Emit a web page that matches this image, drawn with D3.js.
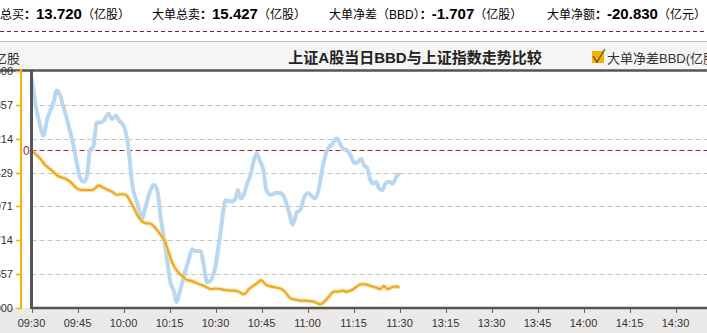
<!DOCTYPE html>
<html lang="zh">
	<head>
		<meta charset="utf-8">
		<title>上证A股当日BBD与上证指数走势比较</title>
		<script type="text/javascript" src="https://cdn.jsdelivr.net/npm/d3@7/dist/d3.min.js"></script>
		<style type="text/css">
			body { margin: 0; background: #fff; }
			svg { display: block; }
			text { font-family: "Liberation Sans", Arial, "Noto Sans CJK SC", sans-serif; }
		</style>
	</head>
	<body>
		<script type="text/javascript">

			//Width and height
			var w = 707;
			var h = 333;

			//Summary line at the top
			var summaryLabels = ["大单总买", "大单总卖", "大单净差（BBD）", "大单净额"];
			var summaryValues = ["13.720", "15.427", "-1.707", "-20.830"];
			var summaryUnits = ["（亿股）", "（亿股）", "（亿股）", "（亿元）"];

			//Time axis: trading minutes since 09:30, one label every 15 minutes
			var timeLabels = ["09:30", "09:45", "10:00", "10:15", "10:30", "10:45", "11:00", "11:15", "11:30",
							  "13:15", "13:30", "13:45", "14:00", "14:15", "14:30", "14:45", "15:00"];

			//Left axis (BBD, 亿股)
			var bbdTicks = [1.5, 0.857, 0.214, -0.429, -1.071, -1.714, -2.357, -3.0];

			//BBD series (orange)
			var bbdMinutes = [0, 1.2, 2.8, 4.5, 5.8, 7.2, 8.8, 9.9, 11.5, 13.1,
							  14.8, 16.4, 18, 19.7, 20.8, 21.8, 23.2, 24.6, 26.2, 27.8,
							  29.4, 30.7, 31.7, 32.8, 34.5, 35.5, 37.2, 38.8, 40.4, 42.1,
							  43.5, 44.6, 45.9, 47.5, 49.1, 50.8, 52.4, 54, 55.7, 57.3,
							  58.4, 60, 61.6, 63.3, 64.9, 66, 67.6, 69.2, 70.9, 72.5,
							  73.8, 74.9, 76.3, 77.9, 79.6, 81.2, 82.8, 84.5, 86.1, 87.7,
							  89.3, 91, 92.6, 94.2, 95.3, 96.9, 98.6, 100, 101.3, 102.6,
							  104, 105.7, 107.3, 108.9, 110.5, 112.2, 113.8, 114.9, 116, 117.4,
							  118.7, 120];
			var bbdValues = [0, -0.07, -0.16, -0.29, -0.35, -0.42, -0.50, -0.52, -0.56, -0.63,
							 -0.73, -0.76, -0.76, -0.76, -0.73, -0.67, -0.71, -0.75, -0.79, -0.85,
							 -0.84, -0.85, -0.92, -1.04, -1.23, -1.32, -1.39, -1.40, -1.48, -1.61,
							 -1.73, -1.92, -2.14, -2.30, -2.39, -2.47, -2.49, -2.53, -2.57, -2.61,
							 -2.64, -2.63, -2.64, -2.66, -2.67, -2.67, -2.69, -2.74, -2.64, -2.57,
							 -2.52, -2.47, -2.55, -2.59, -2.61, -2.63, -2.70, -2.82, -2.84, -2.86,
							 -2.86, -2.87, -2.89, -2.93, -2.89, -2.79, -2.69, -2.69, -2.67, -2.69,
							 -2.67, -2.61, -2.55, -2.55, -2.58, -2.61, -2.64, -2.58, -2.64, -2.61,
							 -2.59, -2.61];

			//上证指数 series (blue, right axis is outside the picture)
			var indexMinutes = [0, 1.7, 2.8, 3.9, 5, 6.1, 7.2, 8.2, 9.4, 10.4,
								11.5, 12.6, 13.7, 14.8, 15.9, 17, 18, 19.1, 20.2, 21.3,
								22.4, 23.5, 25.1, 26.2, 27.5, 28.6, 30, 31.1, 31.7, 32.8,
								34.5, 36.1, 37.2, 38.8, 39.9, 41, 42.1, 43.1, 44.2, 45.3,
								46.4, 47.3, 48.3, 49.7, 51.3, 52.4, 53.5, 55.1, 56.2, 57.3,
								58.4, 60, 61.6, 63.3, 64.3, 65.4, 66.5, 67.3, 68.2, 69.2,
								70.3, 71.4, 72.5, 73.4, 74.4, 75.6, 76.6, 77.9, 79.6, 81,
								82.3, 83.9, 85.2, 86.4, 87.7, 88.8, 89.9, 91, 92.3, 93.2,
								94.2, 95.3, 96.4, 98.1, 99.4, 100.4, 101.5, 102.9, 104, 105.4,
								106.5, 107.5, 108.4, 109.5, 110.5, 111.6, 112.4, 113.3, 114.4, 115.4,
								116.7, 117.8, 118.9, 120];
			var indexValues = [2188.9, 2183.3, 2180.8, 2179.1, 2181.6, 2183.3, 2184.7, 2186.7, 2185.8, 2183.9,
							   2182.0, 2179.7, 2177.4, 2174.4, 2171.9, 2171.3, 2172.1, 2176.6, 2177.4, 2181.3,
							   2181.3, 2181.6, 2182.8, 2181.9, 2182.5, 2181.6, 2180.8, 2178.8, 2176.6, 2171.0,
							   2167.7, 2165.2, 2167.1, 2169.9, 2170.8, 2169.9, 2165.4, 2162.1, 2158.2, 2154.3,
							   2152.9, 2151.0, 2152.6, 2155.4, 2158.2, 2159.9, 2159.6, 2159.6, 2157.1, 2154.3,
							   2154.6, 2157.1, 2162.7, 2168.2, 2168.0, 2168.0, 2168.5, 2169.9, 2168.5, 2169.1,
							   2171.0, 2172.4, 2174.9, 2176.1, 2174.9, 2173.3, 2169.9, 2169.1, 2169.4, 2169.4,
							   2168.8, 2166.3, 2164.1, 2166.0, 2166.6, 2168.5, 2169.4, 2169.1, 2168.5, 2169.1,
							   2171.6, 2174.7, 2176.6, 2177.7, 2178.6, 2178.0, 2176.9, 2176.6, 2175.8, 2174.4,
							   2174.7, 2175.2, 2174.1, 2173.6, 2171.6, 2171.0, 2171.3, 2170.2, 2169.9, 2171.0,
							   2171.3, 2171.0, 2172.1, 2172.7];
			var indexDomain = [2150, 2190];

			//Plot box
			var plotLeft = 31.5, plotRight = 767.5, plotTop = 71, plotBottom = 308;

			var xScale = d3.scaleLinear()
						.domain([0, 240])
						.range([plotLeft, plotRight]);

			var yScale = d3.scaleLinear()
						.domain([-3, 1.5])
						.range([plotBottom, plotTop]);

			var yIndex = d3.scaleLinear()
						.domain(indexDomain)
						.range([plotBottom, plotTop]);

			var svg = d3.select("body")
						.append("svg")
						.attr("width", w)
						.attr("height", h);

			//Summary line
			var summaryX = [-24, 152, 329, 547];
			summaryLabels.forEach(function(label, i) {
				var t = svg.append("text")
					.attr("x", summaryX[i])
					.attr("y", 19)
					.attr("fill", "#000");
				t.append("tspan").attr("font-size", "12px").text(label);
				t.append("tspan").attr("font-size", "12px").attr("font-weight", "bold").text("：");
				t.append("tspan").attr("font-size", "15px").attr("font-weight", "bold").text(summaryValues[i]);
				t.append("tspan").attr("font-size", "12px").text(summaryUnits[i]);
			});

			svg.append("line")
				.attr("x1", 0).attr("x2", w)
				.attr("y1", 31.5).attr("y2", 31.5)
				.attr("stroke", "#8e1b33")
				.attr("stroke-dasharray", "4,3");

			//Title band
			svg.append("rect")
				.attr("x", 0).attr("y", 41)
				.attr("width", w).attr("height", plotTop - 41)
				.attr("fill", "#f5f5f5");
			svg.append("line")
				.attr("x1", 0).attr("x2", w)
				.attr("y1", 41.5).attr("y2", 41.5)
				.attr("stroke", "#bdbdbd");

			svg.append("text")
				.attr("x", 415)
				.attr("y", 63)
				.attr("text-anchor", "middle")
				.attr("font-size", "15px")
				.attr("font-weight", "bold")
				.attr("fill", "#222")
				.text("上证A股当日BBD与上证指数走势比较");

			svg.append("text")
				.attr("x", 20)
				.attr("y", 63)
				.attr("text-anchor", "end")
				.attr("font-size", "13px")
				.attr("fill", "#333")
				.text("亿股");

			//Legend
			svg.append("rect")
				.attr("x", 592).attr("y", 51)
				.attr("width", 12).attr("height", 12)
				.attr("fill", "#f5b300");
			svg.append("path")
				.attr("d", "M593,56 L597,62 L605,49")
				.attr("fill", "none")
				.attr("stroke", "#6b4a10")
				.attr("stroke-width", 1.3);
			svg.append("text")
				.attr("x", 607)
				.attr("y", 63)
				.attr("font-size", "13px")
				.attr("fill", "#333")
				.text("大单净差BBD(亿股)");

			//Bottom band
			svg.append("rect")
				.attr("x", 0).attr("y", plotBottom)
				.attr("width", w).attr("height", h - plotBottom)
				.attr("fill", "#ece9e9");

			//Grid
			svg.selectAll("line.grid")
				.data(bbdTicks.slice(1, -1))
				.enter()
				.append("line")
				.attr("class", "grid")
				.attr("x1", plotLeft).attr("x2", plotRight)
				.attr("y1", function(d) { return Math.round(yScale(d)) + 0.5; })
				.attr("y2", function(d) { return Math.round(yScale(d)) + 0.5; })
				.attr("stroke", "#c4c4c4")
				.attr("stroke-dasharray", "5,3");

			svg.append("line")
				.attr("x1", plotLeft).attr("x2", plotRight)
				.attr("y1", Math.round(yScale(0)) + 0.5)
				.attr("y2", Math.round(yScale(0)) + 0.5)
				.attr("stroke", "#a01c38")
				.attr("stroke-dasharray", "5,3");

			//Lines
			var clip = svg.append("clipPath").attr("id", "plot")
				.append("rect")
				.attr("x", plotLeft).attr("y", plotTop)
				.attr("width", plotRight - plotLeft).attr("height", plotBottom - plotTop);

			var indexData = indexMinutes.map(function(m, i) { return { m: m, v: indexValues[i] }; });
			var bbdData = bbdMinutes.map(function(m, i) { return { m: m, v: bbdValues[i] }; });

			var indexLine = d3.line()
				.curve(d3.curveMonotoneX)
				.x(function(d) { return xScale(d.m); })
				.y(function(d) { return yIndex(d.v); });

			var bbdLine = d3.line()
				.curve(d3.curveMonotoneX)
				.x(function(d) { return xScale(d.m); })
				.y(function(d) { return yScale(d.v); });

			var lines = svg.append("g").attr("clip-path", "url(#plot)");

			lines.append("path")
				.datum(indexData)
				.attr("d", indexLine)
				.attr("fill", "none")
				.attr("stroke", "#b9d7ef")
				.attr("stroke-width", 4)
				.attr("stroke-linejoin", "round");

			lines.append("path")
				.datum(bbdData)
				.attr("d", bbdLine)
				.attr("fill", "none")
				.attr("stroke", "#f6d79a")
				.attr("stroke-width", 4.5)
				.attr("stroke-opacity", 0.6);

			lines.append("path")
				.datum(bbdData)
				.attr("d", bbdLine)
				.attr("fill", "none")
				.attr("stroke", "#efaa1c")
				.attr("stroke-width", 2.2)
				.attr("stroke-linejoin", "round");

			//Plot frame
			svg.append("line")
				.attr("x1", plotLeft).attr("x2", plotLeft)
				.attr("y1", plotTop - 1).attr("y2", plotBottom + 1)
				.attr("stroke", "#555").attr("stroke-width", 3);
			svg.append("line")
				.attr("x1", 0).attr("x2", w)
				.attr("y1", plotTop - 0.5).attr("y2", plotTop - 0.5)
				.attr("stroke", "#555").attr("stroke-width", 2.5);
			svg.append("line")
				.attr("x1", plotLeft).attr("x2", w)
				.attr("y1", plotBottom).attr("y2", plotBottom)
				.attr("stroke", "#555").attr("stroke-width", 2.5);

			//X axis ticks and labels
			var timeTicks = timeLabels.map(function(d, i) { return { label: d, m: i * 15 }; });

			svg.selectAll("line.xtick")
				.data(timeTicks)
				.enter()
				.append("line")
				.attr("class", "xtick")
				.attr("x1", function(d) { return Math.round(xScale(d.m)) + 0.5; })
				.attr("x2", function(d) { return Math.round(xScale(d.m)) + 0.5; })
				.attr("y1", plotBottom + 1).attr("y2", plotBottom + 5)
				.attr("stroke", "#666");

			svg.selectAll("text.xlabel")
				.data(timeTicks)
				.enter()
				.append("text")
				.attr("class", "xlabel")
				.attr("x", function(d) { return xScale(d.m); })
				.attr("y", 327)
				.attr("text-anchor", "middle")
				.attr("font-size", "11px")
				.attr("fill", "#333")
				.text(function(d) { return d.label; });

			//Left orange axis
			svg.append("line")
				.attr("x1", 21).attr("x2", 21)
				.attr("y1", plotTop - 2).attr("y2", plotBottom + 1)
				.attr("stroke", "#f5b300").attr("stroke-width", 2);

			svg.selectAll("line.ytick")
				.data(bbdTicks)
				.enter()
				.append("line")
				.attr("class", "ytick")
				.attr("x1", 16).attr("x2", 21)
				.attr("y1", function(d) { return Math.round(yScale(d)) + 0.5; })
				.attr("y2", function(d) { return Math.round(yScale(d)) + 0.5; })
				.attr("stroke", "#f5b300").attr("stroke-width", 1.5);

			svg.selectAll("text.ylabel")
				.data(bbdTicks)
				.enter()
				.append("text")
				.attr("class", "ylabel")
				.attr("x", 13)
				.attr("y", function(d) { return yScale(d) + 4; })
				.attr("text-anchor", "end")
				.attr("font-size", "11px")
				.attr("fill", "#333")
				.text(function(d) { return d.toFixed(3); });

			svg.append("text")
				.attr("x", 23)
				.attr("y", yScale(0) + 5)
				.attr("font-size", "12px")
				.attr("fill", "#a01c38")
				.text("0");

		</script>
	</body>
</html>
